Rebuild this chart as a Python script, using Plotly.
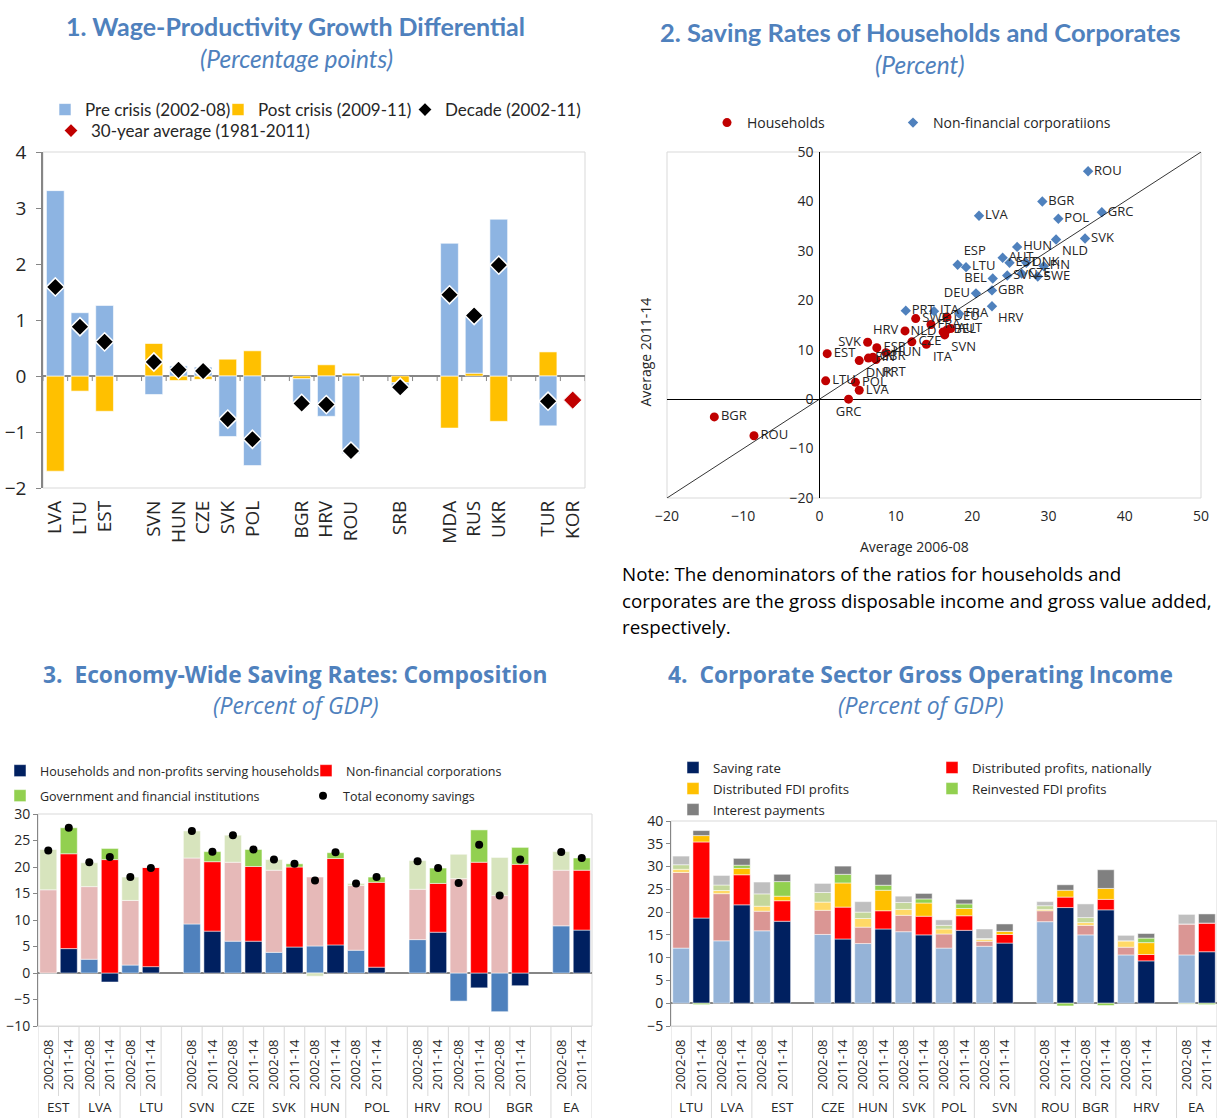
import plotly.graph_objects as go

FIG_W, FIG_H = 1217, 1118
TITLE_BLUE = "#4F81BD"
TEXT = "#262626"
FRAME = "#D9D9D9"
AXIS = "#868686"


def px_x(p):
    return p / FIG_W


def px_y(p):
    return 1 - p / FIG_H


# ---------------- Panel 1: wage-productivity growth differential ----------------
p1_countries = ["LVA", "LTU", "EST", "SVN", "HUN", "CZE", "SVK", "POL", "BGR", "HRV",
                "ROU", "SRB", "MDA", "RUS", "UKR", "TUR", "KOR"]
p1_group_sizes = [3, 5, 3, 1, 3, 2]
p1_pre = [3.31, 1.13, 1.26, -0.33, 0.18, 0.16, -1.08, -1.60, -0.43, -0.72,
          -1.39, -0.06, 2.37, 1.04, 2.80, -0.89, None]
p1_post = [-1.70, -0.27, -0.63, 0.58, -0.08, -0.06, 0.30, 0.45, -0.05, 0.20,
           0.05, -0.12, -0.93, 0.05, -0.81, 0.43, None]
p1_decade = [1.59, 0.88, 0.61, 0.25, 0.11, 0.09, -0.77, -1.13, -0.49, -0.51,
             -1.34, -0.20, 1.45, 1.08, 1.98, -0.45, None]
p1_avg30 = [None] * 16 + [-0.43]

# ---------------- Panel 2: saving rates, 2006-08 vs 2011-14 ----------------
hh_codes = ["BGR", "ROU", "GRC", "LVA", "POL", "LTU", "EST", "DNK", "SVK", "ESP", "FIN", "GBR",
            "PRT", "HUN", "HRV", "CZE", "ITA", "SWE", "FRA", "DEU", "NLD", "SVN", "BEL", "AUT"]
hh_x = [-13.8, -8.6, 3.8, 5.2, 4.7, 0.8, 1.0, 5.2, 6.3, 7.5, 6.4, 7.0,
        7.4, 8.7, 11.2, 12.1, 14.0, 12.6, 14.6, 16.7, 16.2, 16.4, 16.7, 17.2]
hh_y = [-3.6, -7.4, 0.0, 1.8, 3.4, 3.7, 9.2, 7.8, 11.5, 10.4, 8.3, 8.5,
        8.0, 9.4, 13.8, 11.6, 11.1, 16.3, 15.1, 16.6, 13.6, 13.0, 14.0, 14.3]
hh_pos = ["middle right", "middle right", "bottom center", "middle right", "middle right",
          "middle right", "middle right", "bottom right", "middle left", "middle right",
          "middle right", "middle right", "bottom right", "middle right", "middle left",
          "middle right", "bottom right", "middle right", "middle right", "middle right",
          "middle left", "bottom right", "middle right", "middle right"]

nfc_codes = ["ROU", "BGR", "GRC", "LVA", "POL", "SVK", "NLD", "HUN", "AUT", "ESP", "LTU", "EST",
             "DNK", "FIN", "SVN", "CZE", "SWE", "BEL", "DEU", "GBR", "HRV", "PRT", "ITA", "FRA"]
nfc_x = [35.2, 29.2, 37.0, 20.9, 31.3, 34.8, 31.0, 25.9, 24.0, 18.1, 19.2, 24.9,
         27.1, 29.4, 24.6, 26.5, 28.6, 22.7, 20.5, 22.6, 22.6, 11.3, 15.0, 18.3]
nfc_y = [46.1, 40.0, 37.8, 37.1, 36.5, 32.5, 32.3, 30.8, 28.6, 27.2, 26.7, 27.6,
         27.6, 26.9, 25.0, 25.4, 24.8, 24.4, 21.4, 22.0, 18.8, 17.9, 17.8, 17.3]
nfc_pos = ["middle right", "middle right", "middle right", "middle right", "middle right",
           "middle right", "bottom right", "middle right", "middle right", "top right",
           "middle right", "middle right", "middle right", "middle right", "middle right",
           "middle right", "middle right", "middle left", "middle left", "middle right",
           "bottom right", "middle right", "middle right", "middle right"]
p2_range = [-20, 50]

# ---------------- Panel 3: economy-wide saving composition ----------------
p3_countries = ["EST", "LVA", "LTU", "SVN", "CZE", "SVK", "HUN", "POL", "HRV", "ROU", "BGR", "EA"]
p3_spacer_after = ["LTU", "POL", "BGR"]
p3_hh_early = [0.0, 2.6, 1.5, 9.25, 6.0, 3.9, 5.1, 4.3, 6.3, -5.3, -7.3, 8.9]
p3_hh_late = [4.6, -1.7, 1.2, 7.9, 6.0, 4.9, 5.3, 1.1, 7.7, -2.8, -2.4, 8.1]
p3_nfc_early = [15.7, 13.7, 12.2, 12.45, 14.9, 15.5, 13.0, 12.2, 9.5, 17.8, 14.6, 10.5]
p3_nfc_late = [17.9, 21.4, 18.7, 13.1, 14.1, 15.1, 16.3, 16.0, 9.2, 20.9, 20.5, 11.3]
p3_gov_early = [7.6, 4.5, 4.4, 5.1, 5.1, 2.0, -0.6, 0.4, 5.4, 4.6, 7.2, 3.5]
p3_gov_late = [4.9, 2.1, 0.0, 1.9, 3.2, 0.6, 1.1, 1.0, 2.9, 6.1, 3.2, 2.3]
p3_total_early = [23.1, 20.9, 18.1, 26.8, 26.0, 21.4, 17.45, 16.9, 21.1, 17.0, 14.6, 22.85]
p3_total_late = [27.4, 21.9, 19.8, 22.9, 23.3, 20.6, 22.8, 18.1, 19.8, 24.2, 21.4, 21.7]

# ---------------- Panel 4: corporate gross operating income ----------------
p4_countries = ["LTU", "LVA", "EST", "CZE", "HUN", "SVK", "POL", "SVN", "ROU", "BGR", "HRV", "EA"]
p4_spacer_after = ["EST", "SVN", "HRV"]
p4_saving_early = [12.1, 13.7, 15.9, 15.1, 13.1, 15.7, 12.1, 12.5, 17.9, 15.0, 10.6, 10.6]
p4_saving_late = [18.7, 21.6, 18.0, 14.1, 16.3, 15.0, 16.0, 13.2, 21.0, 20.5, 9.3, 11.3]
p4_distnat_early = [16.6, 10.35, 4.3, 5.3, 3.6, 3.6, 3.1, 1.1, 2.4, 2.1, 1.7, 6.8]
p4_distnat_late = [16.7, 6.6, 4.5, 7.0, 4.0, 4.1, 3.2, 1.9, 2.3, 2.3, 1.4, 6.3]
p4_distfdi_early = [0.7, 0.7, 1.1, 1.8, 1.9, 1.3, 1.1, 0.4, 0.3, 0.6, 1.4, 0.0]
p4_distfdi_late = [1.4, 1.4, 1.0, 5.3, 4.5, 2.9, 1.6, 0.7, 1.5, 2.4, 2.6, 0.0]
p4_reinv_early = [1.0, 1.2, 2.7, 2.1, 1.4, 1.5, 0.8, 0.2, 0.8, 1.1, 0.0, -0.2]
p4_reinv_late = [-0.3, 0.7, 3.2, 1.9, 1.1, 0.9, 1.0, 0.0, -0.6, -0.5, 1.0, -0.3]
p4_interest_early = [1.9, 2.1, 2.6, 2.0, 2.3, 1.4, 1.2, 2.1, 0.9, 3.0, 1.2, 2.1]
p4_interest_late = [1.1, 1.5, 1.6, 1.8, 2.4, 1.2, 1.0, 1.6, 1.2, 4.1, 1.0, 2.0]

PERIODS = ["2002-08", "2011-14"]


# ---------------- helpers ----------------
def p1_categories():
    """Country slots with blank spacer slots between country groups."""
    cats, idx = [], 0
    for g, size in enumerate(p1_group_sizes):
        if g:
            cats.append(" " * g)
        cats.extend(p1_countries[idx:idx + size])
        idx += size
    return cats


def p1_spread(values):
    lookup = dict(zip(p1_countries, values))
    return [lookup.get(c) for c in p1_categories()]


def slot_layout(countries, spacer_after):
    """(country, period index or None for a spacer) for each slot along the axis."""
    slots = []
    for c in countries:
        slots += [(c, 0), (c, 1)]
        if c in spacer_after:
            slots.append((c, None))
    return slots


def slot_positions(slots, period):
    return [i for i, (_, p) in enumerate(slots) if p == period]


fig = go.Figure()

# ---- Panel 1 traces ----
cats1 = p1_categories()
fig.add_trace(go.Bar(x=cats1, y=p1_spread(p1_post), name="Post crisis (2009-11)",
                     marker=dict(color="#FFC000", line=dict(color="white", width=0.6)),
                     width=0.72, xaxis="x", yaxis="y", legend="legend2"))
fig.add_trace(go.Bar(x=cats1, y=p1_spread(p1_pre), name="Pre crisis (2002-08)",
                     marker=dict(color="#8DB4E2", line=dict(color="white", width=0.6)),
                     width=0.72, xaxis="x", yaxis="y", legend="legend"))
fig.add_trace(go.Scatter(x=cats1, y=p1_spread(p1_decade), mode="markers", name="Decade (2002-11)",
                         marker=dict(symbol="diamond", size=14, color="black",
                                     line=dict(color="white", width=1.5)),
                         xaxis="x", yaxis="y", legend="legend3"))
fig.add_trace(go.Scatter(x=cats1, y=p1_spread(p1_avg30), mode="markers",
                         name="30-year average (1981-2011)",
                         marker=dict(symbol="diamond", size=14, color="#C00000",
                                     line=dict(color="white", width=1)),
                         xaxis="x", yaxis="y", legend="legend4"))

# ---- Panel 2 traces ----
fig.add_trace(go.Scatter(x=hh_x, y=hh_y, text=hh_codes, mode="markers+text", textposition=hh_pos,
                         textfont=dict(size=13, color=TEXT), name="Households",
                         marker=dict(symbol="circle", size=9, color="#C00000"),
                         xaxis="x2", yaxis="y2", legend="legend5", cliponaxis=False))
fig.add_trace(go.Scatter(x=nfc_x, y=nfc_y, text=nfc_codes, mode="markers+text", textposition=nfc_pos,
                         textfont=dict(size=13, color=TEXT), name="Non-financial corporatiions",
                         marker=dict(symbol="diamond", size=8, color="#4F81BD"),
                         xaxis="x2", yaxis="y2", legend="legend6", cliponaxis=False))


def add_component(slots, early, late, light, dark, name, xa, ya, legend):
    fig.add_trace(go.Bar(x=slot_positions(slots, 0), y=early, name=name,
                         marker=dict(color=light, line=dict(color="white", width=0.5)),
                         width=0.83, xaxis=xa, yaxis=ya, showlegend=False, legendgroup=name))
    fig.add_trace(go.Bar(x=slot_positions(slots, 1), y=late, name=name,
                         marker=dict(color=dark, line=dict(color="white", width=0.5)),
                         width=0.83, xaxis=xa, yaxis=ya, legend=legend, legendgroup=name))


# ---- Panel 3 traces ----
slots3 = slot_layout(p3_countries, p3_spacer_after)
add_component(slots3, p3_hh_early, p3_hh_late, "#4F81BD", "#002060",
              "Households and non-profits serving households", "x3", "y3", "legend7")
add_component(slots3, p3_nfc_early, p3_nfc_late, "#E6B9B8", "#FF0000",
              "Non-financial corporations", "x3", "y3", "legend8")
add_component(slots3, p3_gov_early, p3_gov_late, "#D7E4BD", "#92D050",
              "Government and financial institutions", "x3", "y3", "legend9")
fig.add_trace(go.Scatter(x=slot_positions(slots3, 0) + slot_positions(slots3, 1),
                         y=p3_total_early + p3_total_late, mode="markers",
                         name="Total economy savings",
                         marker=dict(symbol="circle", size=8, color="black"),
                         xaxis="x3", yaxis="y3", legend="legend10"))

# ---- Panel 4 traces ----
slots4 = slot_layout(p4_countries, p4_spacer_after)
add_component(slots4, p4_saving_early, p4_saving_late, "#95B3D7", "#002060",
              "Saving rate", "x4", "y4", "legend11")
add_component(slots4, p4_distnat_early, p4_distnat_late, "#DA9694", "#FF0000",
              "Distributed profits, nationally", "x4", "y4", "legend12")
add_component(slots4, p4_distfdi_early, p4_distfdi_late, "#FFD966", "#FFC000",
              "Distributed FDI profits", "x4", "y4", "legend13")
add_component(slots4, p4_reinv_early, p4_reinv_late, "#C4D79B", "#92D050",
              "Reinvested FDI profits", "x4", "y4", "legend14")
add_component(slots4, p4_interest_early, p4_interest_late, "#BFBFBF", "#808080",
              "Interest payments", "x4", "y4", "legend15")

# ---------------- layout ----------------
dom1x = [px_x(43), px_x(585)]
dom1y = [px_y(488), px_y(152)]
dom2x = [px_x(667), px_x(1201)]
dom2y = [px_y(498), px_y(152)]
dom3x = [px_x(38), px_x(592)]
dom3y = [px_y(1026), px_y(814)]
dom4x = [px_x(671), 1.0]
dom4y = [px_y(1026), px_y(821)]

y2_position = dom2x[0] + (0 - p2_range[0]) / (p2_range[1] - p2_range[0]) * (dom2x[1] - dom2x[0])


def period_axis(domain, anchor, slots):
    ticked = [i for i, (_, p) in enumerate(slots) if p is not None]
    return dict(domain=domain, anchor=anchor, range=[-0.5, len(slots) - 0.5],
                tickmode="array", tickvals=ticked,
                ticktext=[PERIODS[slots[i][1]] for i in ticked],
                tickangle=-90, tickfont=dict(size=13.5, color=TEXT), ticks="",
                ticklabelstandoff=7, showline=True, linecolor=FRAME, showgrid=False,
                zeroline=False, automargin=False)


def value_axis(domain, anchor, rng):
    return dict(domain=domain, anchor=anchor, range=rng, dtick=5, showgrid=False,
                showline=True, linecolor=AXIS, zeroline=True, zerolinecolor=AXIS,
                ticks="outside", ticklen=4, tickcolor=AXIS, tickfont=dict(size=14, color=TEXT),
                automargin=False)


fig.update_layout(
    width=FIG_W, height=FIG_H, margin=dict(l=0, r=0, t=0, b=0),
    paper_bgcolor="white", plot_bgcolor="white", barmode="relative",
    font=dict(family="Open Sans", size=13, color=TEXT),
    xaxis=dict(domain=dom1x, anchor="y", type="category", range=[-0.5, len(cats1) - 0.5],
               tickmode="array", tickvals=p1_countries, tickangle=-90,
               tickfont=dict(size=19, color=TEXT), showgrid=False, showline=False,
               ticks="", ticklabelstandoff=8, automargin=False),
    yaxis=dict(domain=dom1y, anchor="x", range=[-2, 4], dtick=1, showgrid=False,
               showline=True, linecolor=AXIS, linewidth=1.5, zeroline=True,
               zerolinecolor=AXIS, zerolinewidth=1.5, ticks="outside", ticklen=5,
               tickcolor=AXIS, tickfont=dict(size=19, color=TEXT), ticklabelstandoff=6,
               automargin=False),
    xaxis2=dict(domain=dom2x, anchor="y2", range=p2_range, dtick=10, showgrid=False,
                zeroline=True, zerolinecolor="black", zerolinewidth=1, showline=False,
                tickfont=dict(size=14, color=TEXT), ticklabelstandoff=8, automargin=False),
    yaxis2=dict(domain=dom2y, anchor="free", position=y2_position, range=p2_range, dtick=10,
                showgrid=False, zeroline=True, zerolinecolor="black", zerolinewidth=1,
                showline=False, tickfont=dict(size=14, color=TEXT), ticklabelstandoff=6,
                automargin=False),
    xaxis3=period_axis(dom3x, "y3", slots3),
    yaxis3=value_axis(dom3y, "x3", [-10, 30]),
    xaxis4=period_axis(dom4x, "y4", slots4),
    yaxis4=value_axis(dom4y, "x4", [-5, 40]),
)

# one single-entry legend per series so each key sits where it belongs
# (x position given as the pixel column of the key symbol)
legend_spots = [
    ("legend", 71, 110, dict(family="Lato", size=17), "trace"),
    ("legend2", 244, 110, dict(family="Lato", size=17), "trace"),
    ("legend3", 431, 110, dict(family="Lato", size=17), "constant"),
    ("legend4", 77, 131, dict(family="Lato", size=17), "constant"),
    ("legend5", 733, 123, dict(size=14), "trace"),
    ("legend6", 919, 123, dict(size=14), "trace"),
    ("legend7", 13, 771, dict(size=12.5), "trace"),
    ("legend8", 332, 771, dict(size=12.5), "trace"),
    ("legend9", 13, 796, dict(size=12.5), "trace"),
    ("legend10", 329, 796, dict(size=12.5), "trace"),
    ("legend11", 699, 768, dict(size=13.2), "trace"),
    ("legend12", 958, 768, dict(size=13.2), "trace"),
    ("legend13", 699, 789, dict(size=13.2), "trace"),
    ("legend14", 958, 789, dict(size=13.2), "trace"),
    ("legend15", 699, 810, dict(size=13.2), "trace"),
]
fig.update_layout({
    key: dict(x=px_x(max(0, sx - 26)), y=px_y(sy), xanchor="left", yanchor="middle",
              bgcolor="rgba(0,0,0,0)", font=dict(color=TEXT, **font), itemsizing=sizing)
    for key, sx, sy, font, sizing in legend_spots
})

# plot frames
for ax in ["x", "x2", "x3", "x4"]:
    ya = ax.replace("x", "y")
    fig.add_shape(type="rect", xref=f"{ax} domain", yref=f"{ya} domain", x0=0, x1=1, y0=0, y1=1,
                  line=dict(color=FRAME, width=1), layer="below")

# small category ticks hanging from the zero line in panel 1
for i in range(len(cats1) + 1):
    fig.add_shape(type="line", xref="x", yref="y", x0=i - 0.5, x1=i - 0.5, y0=0, y1=-0.09,
                  line=dict(color=AXIS, width=1))

# 45-degree reference line in the scatter panel
fig.add_shape(type="line", xref="x2", yref="y2", x0=p2_range[0], y0=p2_range[0],
              x1=p2_range[1], y1=p2_range[1], line=dict(color="black", width=0.8))

# category separators and country names under panels 3 and 4
for xa, slots in (("x3", slots3), ("x4", slots4)):
    for i in range(len(slots) + 1):
        group_edge = i == 0 or i == len(slots) or slots[i][0] != slots[i - 1][0]
        fig.add_shape(type="line", xref=xa, yref="paper", x0=i - 0.5, x1=i - 0.5,
                      y0=px_y(1026), y1=px_y(1118 if group_edge else 1096),
                      line=dict(color=FRAME, width=1))
    names = []
    for c, _ in slots:
        if c not in names:
            names.append(c)
    for c in names:
        idx = [i for i, (cc, _) in enumerate(slots) if cc == c]
        fig.add_annotation(text=c, x=sum(idx) / len(idx), y=px_y(1107), xref=xa, yref="paper",
                           showarrow=False, xanchor="center", yanchor="middle",
                           font=dict(size=13.5, color=TEXT))

# titles and notes
headings = [
    ("<b>1. Wage-Productivity Growth Differential</b>", 295, 26, dict(family="Lato", size=25, color=TITLE_BLUE)),
    ("<i>(Percentage points)</i>", 296, 58, dict(family="Lato", size=24.5, color=TITLE_BLUE)),
    ("<b>2. Saving Rates of Households and Corporates</b>", 920, 32, dict(family="Lato", size=25.5, color=TITLE_BLUE)),
    ("<i>(Percent)</i>", 920, 64, dict(family="Lato", size=24.5, color=TITLE_BLUE)),
    ("<b>3.  Economy-Wide Saving Rates: Composition</b>", 295, 674, dict(size=22.8, color=TITLE_BLUE)),
    ("<i>(Percent of GDP)</i>", 295, 705, dict(size=23, color=TITLE_BLUE)),
    ("<b>4.  Corporate Sector Gross Operating Income</b>", 920, 674, dict(size=22.8, color=TITLE_BLUE)),
    ("<i>(Percent of GDP)</i>", 920, 705, dict(size=23, color=TITLE_BLUE)),
    ("Average 2006-08", 914, 547, dict(size=14, color=TEXT)),
]
for text, x, y, font in headings:
    fig.add_annotation(text=text, x=px_x(x), y=px_y(y), xref="paper", yref="paper",
                       xanchor="center", yanchor="middle", showarrow=False, font=font)

fig.add_annotation(text="Average 2011-14", x=px_x(645), y=px_y(296), xref="paper", yref="paper",
                   textangle=-90, showarrow=False, font=dict(size=14, color=TEXT))

note_lines = ["Note: The denominators of the ratios for households and",
              "corporates are the gross disposable income and gross value added,",
              "respectively."]
for i, line in enumerate(note_lines):
    fig.add_annotation(text=line, x=px_x(620), y=px_y(574 + 26.5 * i), xref="paper", yref="paper",
                       xanchor="left", yanchor="middle", showarrow=False,
                       font=dict(size=18.8, color="black"))

fig.write_html("out.html")
